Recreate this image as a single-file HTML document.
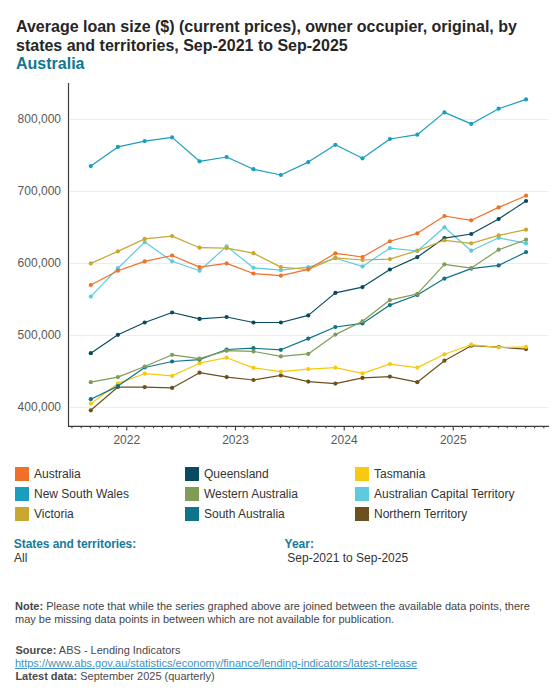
<!DOCTYPE html><html><head><meta charset="utf-8"><style>html,body{margin:0;padding:0;background:#fff;width:560px;height:700px;overflow:hidden}svg{display:block}text{font-family:"Liberation Sans",sans-serif}</style></head><body>
<svg width="560" height="700" viewBox="0 0 560 700">
<text x="16" y="32.3" font-size="16" font-weight="bold" fill="#262626">Average loan size ($) (current prices), owner occupier, original, by</text>
<text x="16" y="51" font-size="16" font-weight="bold" fill="#262626">states and territories, Sep-2021 to Sep-2025</text>
<text x="16" y="68.7" font-size="16" font-weight="bold" fill="#0F7892">Australia</text>
<line x1="70" x2="548" y1="119.5" y2="119.5" stroke="#ECECEC" stroke-width="1"/>
<text x="61" y="123.3" font-size="12" fill="#595959" text-anchor="end">800,000</text>
<line x1="70" x2="548" y1="191.5" y2="191.5" stroke="#ECECEC" stroke-width="1"/>
<text x="61" y="195.3" font-size="12" fill="#595959" text-anchor="end">700,000</text>
<line x1="70" x2="548" y1="263.5" y2="263.5" stroke="#ECECEC" stroke-width="1"/>
<text x="61" y="267.3" font-size="12" fill="#595959" text-anchor="end">600,000</text>
<line x1="70" x2="548" y1="335.5" y2="335.5" stroke="#ECECEC" stroke-width="1"/>
<text x="61" y="339.3" font-size="12" fill="#595959" text-anchor="end">500,000</text>
<line x1="70" x2="548" y1="407.5" y2="407.5" stroke="#ECECEC" stroke-width="1"/>
<text x="61" y="411.3" font-size="12" fill="#595959" text-anchor="end">400,000</text>
<line x1="68.5" x2="68.5" y1="83" y2="427" stroke="#3c3c3c" stroke-width="1.2"/>
<line x1="68" x2="549" y1="426.4" y2="426.4" stroke="#3c3c3c" stroke-width="1.2"/>
<line x1="71.93" x2="71.93" y1="426.5" y2="428.2" stroke="#3c3c3c" stroke-width="1.1"/>
<line x1="81.16" x2="81.16" y1="426.5" y2="428.2" stroke="#3c3c3c" stroke-width="1.1"/>
<line x1="90.40" x2="90.40" y1="426.5" y2="428.2" stroke="#3c3c3c" stroke-width="1.1"/>
<line x1="99.34" x2="99.34" y1="426.5" y2="428.2" stroke="#3c3c3c" stroke-width="1.1"/>
<line x1="108.57" x2="108.57" y1="426.5" y2="428.2" stroke="#3c3c3c" stroke-width="1.1"/>
<line x1="117.51" x2="117.51" y1="426.5" y2="428.2" stroke="#3c3c3c" stroke-width="1.1"/>
<line x1="126.75" x2="126.75" y1="426.5" y2="430.5" stroke="#3c3c3c" stroke-width="1.1"/>
<text x="126.75" y="443.8" font-size="12" fill="#595959" text-anchor="middle">2022</text>
<line x1="135.98" x2="135.98" y1="426.5" y2="428.2" stroke="#3c3c3c" stroke-width="1.1"/>
<line x1="144.32" x2="144.32" y1="426.5" y2="428.2" stroke="#3c3c3c" stroke-width="1.1"/>
<line x1="153.56" x2="153.56" y1="426.5" y2="428.2" stroke="#3c3c3c" stroke-width="1.1"/>
<line x1="162.49" x2="162.49" y1="426.5" y2="428.2" stroke="#3c3c3c" stroke-width="1.1"/>
<line x1="171.73" x2="171.73" y1="426.5" y2="428.2" stroke="#3c3c3c" stroke-width="1.1"/>
<line x1="180.67" x2="180.67" y1="426.5" y2="428.2" stroke="#3c3c3c" stroke-width="1.1"/>
<line x1="189.90" x2="189.90" y1="426.5" y2="428.2" stroke="#3c3c3c" stroke-width="1.1"/>
<line x1="199.14" x2="199.14" y1="426.5" y2="428.2" stroke="#3c3c3c" stroke-width="1.1"/>
<line x1="208.07" x2="208.07" y1="426.5" y2="428.2" stroke="#3c3c3c" stroke-width="1.1"/>
<line x1="217.31" x2="217.31" y1="426.5" y2="428.2" stroke="#3c3c3c" stroke-width="1.1"/>
<line x1="226.25" x2="226.25" y1="426.5" y2="428.2" stroke="#3c3c3c" stroke-width="1.1"/>
<line x1="235.48" x2="235.48" y1="426.5" y2="430.5" stroke="#3c3c3c" stroke-width="1.1"/>
<text x="235.48" y="443.8" font-size="12" fill="#595959" text-anchor="middle">2023</text>
<line x1="244.72" x2="244.72" y1="426.5" y2="428.2" stroke="#3c3c3c" stroke-width="1.1"/>
<line x1="253.06" x2="253.06" y1="426.5" y2="428.2" stroke="#3c3c3c" stroke-width="1.1"/>
<line x1="262.29" x2="262.29" y1="426.5" y2="428.2" stroke="#3c3c3c" stroke-width="1.1"/>
<line x1="271.23" x2="271.23" y1="426.5" y2="428.2" stroke="#3c3c3c" stroke-width="1.1"/>
<line x1="280.47" x2="280.47" y1="426.5" y2="428.2" stroke="#3c3c3c" stroke-width="1.1"/>
<line x1="289.40" x2="289.40" y1="426.5" y2="428.2" stroke="#3c3c3c" stroke-width="1.1"/>
<line x1="298.64" x2="298.64" y1="426.5" y2="428.2" stroke="#3c3c3c" stroke-width="1.1"/>
<line x1="307.87" x2="307.87" y1="426.5" y2="428.2" stroke="#3c3c3c" stroke-width="1.1"/>
<line x1="316.81" x2="316.81" y1="426.5" y2="428.2" stroke="#3c3c3c" stroke-width="1.1"/>
<line x1="326.05" x2="326.05" y1="426.5" y2="428.2" stroke="#3c3c3c" stroke-width="1.1"/>
<line x1="334.98" x2="334.98" y1="426.5" y2="428.2" stroke="#3c3c3c" stroke-width="1.1"/>
<line x1="344.22" x2="344.22" y1="426.5" y2="430.5" stroke="#3c3c3c" stroke-width="1.1"/>
<text x="344.22" y="443.8" font-size="12" fill="#595959" text-anchor="middle">2024</text>
<line x1="353.45" x2="353.45" y1="426.5" y2="428.2" stroke="#3c3c3c" stroke-width="1.1"/>
<line x1="362.09" x2="362.09" y1="426.5" y2="428.2" stroke="#3c3c3c" stroke-width="1.1"/>
<line x1="371.33" x2="371.33" y1="426.5" y2="428.2" stroke="#3c3c3c" stroke-width="1.1"/>
<line x1="380.27" x2="380.27" y1="426.5" y2="428.2" stroke="#3c3c3c" stroke-width="1.1"/>
<line x1="389.50" x2="389.50" y1="426.5" y2="428.2" stroke="#3c3c3c" stroke-width="1.1"/>
<line x1="398.44" x2="398.44" y1="426.5" y2="428.2" stroke="#3c3c3c" stroke-width="1.1"/>
<line x1="407.67" x2="407.67" y1="426.5" y2="428.2" stroke="#3c3c3c" stroke-width="1.1"/>
<line x1="416.91" x2="416.91" y1="426.5" y2="428.2" stroke="#3c3c3c" stroke-width="1.1"/>
<line x1="425.85" x2="425.85" y1="426.5" y2="428.2" stroke="#3c3c3c" stroke-width="1.1"/>
<line x1="435.08" x2="435.08" y1="426.5" y2="428.2" stroke="#3c3c3c" stroke-width="1.1"/>
<line x1="444.02" x2="444.02" y1="426.5" y2="428.2" stroke="#3c3c3c" stroke-width="1.1"/>
<line x1="453.25" x2="453.25" y1="426.5" y2="430.5" stroke="#3c3c3c" stroke-width="1.1"/>
<text x="453.25" y="443.8" font-size="12" fill="#595959" text-anchor="middle">2025</text>
<line x1="462.49" x2="462.49" y1="426.5" y2="428.2" stroke="#3c3c3c" stroke-width="1.1"/>
<line x1="470.83" x2="470.83" y1="426.5" y2="428.2" stroke="#3c3c3c" stroke-width="1.1"/>
<line x1="480.07" x2="480.07" y1="426.5" y2="428.2" stroke="#3c3c3c" stroke-width="1.1"/>
<line x1="489.00" x2="489.00" y1="426.5" y2="428.2" stroke="#3c3c3c" stroke-width="1.1"/>
<line x1="498.24" x2="498.24" y1="426.5" y2="428.2" stroke="#3c3c3c" stroke-width="1.1"/>
<line x1="507.18" x2="507.18" y1="426.5" y2="428.2" stroke="#3c3c3c" stroke-width="1.1"/>
<line x1="516.41" x2="516.41" y1="426.5" y2="428.2" stroke="#3c3c3c" stroke-width="1.1"/>
<line x1="525.65" x2="525.65" y1="426.5" y2="428.2" stroke="#3c3c3c" stroke-width="1.1"/>
<line x1="534.58" x2="534.58" y1="426.5" y2="428.2" stroke="#3c3c3c" stroke-width="1.1"/>
<line x1="543.82" x2="543.82" y1="426.5" y2="428.2" stroke="#3c3c3c" stroke-width="1.1"/>
<polyline points="90.80,410.30 117.91,387.00 144.72,387.10 172.13,387.90 199.54,372.70 226.65,377.10 253.46,380.00 280.87,375.40 308.27,381.60 335.38,383.60 362.49,377.90 389.90,376.60 417.31,382.20 444.42,360.70 471.23,345.70 498.64,347.10 526.05,349.10" fill="none" stroke="#6B5020" stroke-width="1.2" stroke-linejoin="round"/>
<circle cx="90.80" cy="410.30" r="2.1" fill="#6B5020"/>
<circle cx="117.91" cy="387.00" r="2.1" fill="#6B5020"/>
<circle cx="144.72" cy="387.10" r="2.1" fill="#6B5020"/>
<circle cx="172.13" cy="387.90" r="2.1" fill="#6B5020"/>
<circle cx="199.54" cy="372.70" r="2.1" fill="#6B5020"/>
<circle cx="226.65" cy="377.10" r="2.1" fill="#6B5020"/>
<circle cx="253.46" cy="380.00" r="2.1" fill="#6B5020"/>
<circle cx="280.87" cy="375.40" r="2.1" fill="#6B5020"/>
<circle cx="308.27" cy="381.60" r="2.1" fill="#6B5020"/>
<circle cx="335.38" cy="383.60" r="2.1" fill="#6B5020"/>
<circle cx="362.49" cy="377.90" r="2.1" fill="#6B5020"/>
<circle cx="389.90" cy="376.60" r="2.1" fill="#6B5020"/>
<circle cx="417.31" cy="382.20" r="2.1" fill="#6B5020"/>
<circle cx="444.42" cy="360.70" r="2.1" fill="#6B5020"/>
<circle cx="471.23" cy="345.70" r="2.1" fill="#6B5020"/>
<circle cx="498.64" cy="347.10" r="2.1" fill="#6B5020"/>
<circle cx="526.05" cy="349.10" r="2.1" fill="#6B5020"/>
<polyline points="90.80,296.60 117.91,268.20 144.72,242.10 172.13,261.30 199.54,270.70 226.65,246.40 253.46,267.80 280.87,270.20 308.27,267.20 335.38,258.20 362.49,266.40 389.90,248.20 417.31,251.00 444.42,227.30 471.23,250.70 498.64,237.80 526.05,243.40" fill="none" stroke="#5CCBDF" stroke-width="1.2" stroke-linejoin="round"/>
<circle cx="90.80" cy="296.60" r="2.1" fill="#5CCBDF"/>
<circle cx="117.91" cy="268.20" r="2.1" fill="#5CCBDF"/>
<circle cx="144.72" cy="242.10" r="2.1" fill="#5CCBDF"/>
<circle cx="172.13" cy="261.30" r="2.1" fill="#5CCBDF"/>
<circle cx="199.54" cy="270.70" r="2.1" fill="#5CCBDF"/>
<circle cx="226.65" cy="246.40" r="2.1" fill="#5CCBDF"/>
<circle cx="253.46" cy="267.80" r="2.1" fill="#5CCBDF"/>
<circle cx="280.87" cy="270.20" r="2.1" fill="#5CCBDF"/>
<circle cx="308.27" cy="267.20" r="2.1" fill="#5CCBDF"/>
<circle cx="335.38" cy="258.20" r="2.1" fill="#5CCBDF"/>
<circle cx="362.49" cy="266.40" r="2.1" fill="#5CCBDF"/>
<circle cx="389.90" cy="248.20" r="2.1" fill="#5CCBDF"/>
<circle cx="417.31" cy="251.00" r="2.1" fill="#5CCBDF"/>
<circle cx="444.42" cy="227.30" r="2.1" fill="#5CCBDF"/>
<circle cx="471.23" cy="250.70" r="2.1" fill="#5CCBDF"/>
<circle cx="498.64" cy="237.80" r="2.1" fill="#5CCBDF"/>
<circle cx="526.05" cy="243.40" r="2.1" fill="#5CCBDF"/>
<polyline points="90.80,403.70 117.91,383.40 144.72,373.70 172.13,375.90 199.54,363.20 226.65,357.70 253.46,367.90 280.87,371.60 308.27,369.10 335.38,367.70 362.49,373.40 389.90,364.10 417.31,367.60 444.42,354.30 471.23,344.70 498.64,347.50 526.05,346.90" fill="none" stroke="#F6CA10" stroke-width="1.2" stroke-linejoin="round"/>
<circle cx="90.80" cy="403.70" r="2.1" fill="#F6CA10"/>
<circle cx="117.91" cy="383.40" r="2.1" fill="#F6CA10"/>
<circle cx="144.72" cy="373.70" r="2.1" fill="#F6CA10"/>
<circle cx="172.13" cy="375.90" r="2.1" fill="#F6CA10"/>
<circle cx="199.54" cy="363.20" r="2.1" fill="#F6CA10"/>
<circle cx="226.65" cy="357.70" r="2.1" fill="#F6CA10"/>
<circle cx="253.46" cy="367.90" r="2.1" fill="#F6CA10"/>
<circle cx="280.87" cy="371.60" r="2.1" fill="#F6CA10"/>
<circle cx="308.27" cy="369.10" r="2.1" fill="#F6CA10"/>
<circle cx="335.38" cy="367.70" r="2.1" fill="#F6CA10"/>
<circle cx="362.49" cy="373.40" r="2.1" fill="#F6CA10"/>
<circle cx="389.90" cy="364.10" r="2.1" fill="#F6CA10"/>
<circle cx="417.31" cy="367.60" r="2.1" fill="#F6CA10"/>
<circle cx="444.42" cy="354.30" r="2.1" fill="#F6CA10"/>
<circle cx="471.23" cy="344.70" r="2.1" fill="#F6CA10"/>
<circle cx="498.64" cy="347.50" r="2.1" fill="#F6CA10"/>
<circle cx="526.05" cy="346.90" r="2.1" fill="#F6CA10"/>
<polyline points="90.80,399.20 117.91,386.10 144.72,367.50 172.13,361.50 199.54,359.60 226.65,349.50 253.46,348.20 280.87,349.80 308.27,338.60 335.38,327.00 362.49,323.40 389.90,305.10 417.31,295.00 444.42,278.60 471.23,268.60 498.64,265.40 526.05,252.10" fill="none" stroke="#0E7489" stroke-width="1.2" stroke-linejoin="round"/>
<circle cx="90.80" cy="399.20" r="2.1" fill="#0E7489"/>
<circle cx="117.91" cy="386.10" r="2.1" fill="#0E7489"/>
<circle cx="144.72" cy="367.50" r="2.1" fill="#0E7489"/>
<circle cx="172.13" cy="361.50" r="2.1" fill="#0E7489"/>
<circle cx="199.54" cy="359.60" r="2.1" fill="#0E7489"/>
<circle cx="226.65" cy="349.50" r="2.1" fill="#0E7489"/>
<circle cx="253.46" cy="348.20" r="2.1" fill="#0E7489"/>
<circle cx="280.87" cy="349.80" r="2.1" fill="#0E7489"/>
<circle cx="308.27" cy="338.60" r="2.1" fill="#0E7489"/>
<circle cx="335.38" cy="327.00" r="2.1" fill="#0E7489"/>
<circle cx="362.49" cy="323.40" r="2.1" fill="#0E7489"/>
<circle cx="389.90" cy="305.10" r="2.1" fill="#0E7489"/>
<circle cx="417.31" cy="295.00" r="2.1" fill="#0E7489"/>
<circle cx="444.42" cy="278.60" r="2.1" fill="#0E7489"/>
<circle cx="471.23" cy="268.60" r="2.1" fill="#0E7489"/>
<circle cx="498.64" cy="265.40" r="2.1" fill="#0E7489"/>
<circle cx="526.05" cy="252.10" r="2.1" fill="#0E7489"/>
<polyline points="90.80,382.20 117.91,377.10 144.72,366.50 172.13,354.80 199.54,358.70 226.65,350.70 253.46,351.40 280.87,356.40 308.27,353.90 335.38,334.60 362.49,321.25 389.90,300.10 417.31,293.80 444.42,264.30 471.23,268.10 498.64,249.70 526.05,239.70" fill="none" stroke="#809C56" stroke-width="1.2" stroke-linejoin="round"/>
<circle cx="90.80" cy="382.20" r="2.1" fill="#809C56"/>
<circle cx="117.91" cy="377.10" r="2.1" fill="#809C56"/>
<circle cx="144.72" cy="366.50" r="2.1" fill="#809C56"/>
<circle cx="172.13" cy="354.80" r="2.1" fill="#809C56"/>
<circle cx="199.54" cy="358.70" r="2.1" fill="#809C56"/>
<circle cx="226.65" cy="350.70" r="2.1" fill="#809C56"/>
<circle cx="253.46" cy="351.40" r="2.1" fill="#809C56"/>
<circle cx="280.87" cy="356.40" r="2.1" fill="#809C56"/>
<circle cx="308.27" cy="353.90" r="2.1" fill="#809C56"/>
<circle cx="335.38" cy="334.60" r="2.1" fill="#809C56"/>
<circle cx="362.49" cy="321.25" r="2.1" fill="#809C56"/>
<circle cx="389.90" cy="300.10" r="2.1" fill="#809C56"/>
<circle cx="417.31" cy="293.80" r="2.1" fill="#809C56"/>
<circle cx="444.42" cy="264.30" r="2.1" fill="#809C56"/>
<circle cx="471.23" cy="268.10" r="2.1" fill="#809C56"/>
<circle cx="498.64" cy="249.70" r="2.1" fill="#809C56"/>
<circle cx="526.05" cy="239.70" r="2.1" fill="#809C56"/>
<polyline points="90.80,353.20 117.91,334.80 144.72,322.50 172.13,312.50 199.54,318.90 226.65,317.00 253.46,322.50 280.87,322.50 308.27,315.40 335.38,292.90 362.49,287.10 389.90,269.50 417.31,257.10 444.42,238.10 471.23,234.00 498.64,219.00 526.05,201.00" fill="none" stroke="#084B60" stroke-width="1.2" stroke-linejoin="round"/>
<circle cx="90.80" cy="353.20" r="2.1" fill="#084B60"/>
<circle cx="117.91" cy="334.80" r="2.1" fill="#084B60"/>
<circle cx="144.72" cy="322.50" r="2.1" fill="#084B60"/>
<circle cx="172.13" cy="312.50" r="2.1" fill="#084B60"/>
<circle cx="199.54" cy="318.90" r="2.1" fill="#084B60"/>
<circle cx="226.65" cy="317.00" r="2.1" fill="#084B60"/>
<circle cx="253.46" cy="322.50" r="2.1" fill="#084B60"/>
<circle cx="280.87" cy="322.50" r="2.1" fill="#084B60"/>
<circle cx="308.27" cy="315.40" r="2.1" fill="#084B60"/>
<circle cx="335.38" cy="292.90" r="2.1" fill="#084B60"/>
<circle cx="362.49" cy="287.10" r="2.1" fill="#084B60"/>
<circle cx="389.90" cy="269.50" r="2.1" fill="#084B60"/>
<circle cx="417.31" cy="257.10" r="2.1" fill="#084B60"/>
<circle cx="444.42" cy="238.10" r="2.1" fill="#084B60"/>
<circle cx="471.23" cy="234.00" r="2.1" fill="#084B60"/>
<circle cx="498.64" cy="219.00" r="2.1" fill="#084B60"/>
<circle cx="526.05" cy="201.00" r="2.1" fill="#084B60"/>
<polyline points="90.80,263.40 117.91,251.40 144.72,238.90 172.13,236.10 199.54,247.70 226.65,248.20 253.46,253.20 280.87,267.10 308.27,269.50 335.38,257.90 362.49,260.00 389.90,259.10 417.31,250.60 444.42,240.30 471.23,243.30 498.64,235.40 526.05,229.70" fill="none" stroke="#C8A830" stroke-width="1.2" stroke-linejoin="round"/>
<circle cx="90.80" cy="263.40" r="2.1" fill="#C8A830"/>
<circle cx="117.91" cy="251.40" r="2.1" fill="#C8A830"/>
<circle cx="144.72" cy="238.90" r="2.1" fill="#C8A830"/>
<circle cx="172.13" cy="236.10" r="2.1" fill="#C8A830"/>
<circle cx="199.54" cy="247.70" r="2.1" fill="#C8A830"/>
<circle cx="226.65" cy="248.20" r="2.1" fill="#C8A830"/>
<circle cx="253.46" cy="253.20" r="2.1" fill="#C8A830"/>
<circle cx="280.87" cy="267.10" r="2.1" fill="#C8A830"/>
<circle cx="308.27" cy="269.50" r="2.1" fill="#C8A830"/>
<circle cx="335.38" cy="257.90" r="2.1" fill="#C8A830"/>
<circle cx="362.49" cy="260.00" r="2.1" fill="#C8A830"/>
<circle cx="389.90" cy="259.10" r="2.1" fill="#C8A830"/>
<circle cx="417.31" cy="250.60" r="2.1" fill="#C8A830"/>
<circle cx="444.42" cy="240.30" r="2.1" fill="#C8A830"/>
<circle cx="471.23" cy="243.30" r="2.1" fill="#C8A830"/>
<circle cx="498.64" cy="235.40" r="2.1" fill="#C8A830"/>
<circle cx="526.05" cy="229.70" r="2.1" fill="#C8A830"/>
<polyline points="90.80,166.10 117.91,146.90 144.72,141.10 172.13,137.40 199.54,161.30 226.65,157.00 253.46,169.20 280.87,175.00 308.27,162.10 335.38,144.80 362.49,158.30 389.90,139.00 417.31,134.70 444.42,112.40 471.23,123.90 498.64,108.70 526.05,99.40" fill="none" stroke="#1A9EBD" stroke-width="1.2" stroke-linejoin="round"/>
<circle cx="90.80" cy="166.10" r="2.1" fill="#1A9EBD"/>
<circle cx="117.91" cy="146.90" r="2.1" fill="#1A9EBD"/>
<circle cx="144.72" cy="141.10" r="2.1" fill="#1A9EBD"/>
<circle cx="172.13" cy="137.40" r="2.1" fill="#1A9EBD"/>
<circle cx="199.54" cy="161.30" r="2.1" fill="#1A9EBD"/>
<circle cx="226.65" cy="157.00" r="2.1" fill="#1A9EBD"/>
<circle cx="253.46" cy="169.20" r="2.1" fill="#1A9EBD"/>
<circle cx="280.87" cy="175.00" r="2.1" fill="#1A9EBD"/>
<circle cx="308.27" cy="162.10" r="2.1" fill="#1A9EBD"/>
<circle cx="335.38" cy="144.80" r="2.1" fill="#1A9EBD"/>
<circle cx="362.49" cy="158.30" r="2.1" fill="#1A9EBD"/>
<circle cx="389.90" cy="139.00" r="2.1" fill="#1A9EBD"/>
<circle cx="417.31" cy="134.70" r="2.1" fill="#1A9EBD"/>
<circle cx="444.42" cy="112.40" r="2.1" fill="#1A9EBD"/>
<circle cx="471.23" cy="123.90" r="2.1" fill="#1A9EBD"/>
<circle cx="498.64" cy="108.70" r="2.1" fill="#1A9EBD"/>
<circle cx="526.05" cy="99.40" r="2.1" fill="#1A9EBD"/>
<polyline points="90.80,285.00 117.91,270.70 144.72,261.40 172.13,255.50 199.54,267.10 226.65,263.40 253.46,273.50 280.87,275.70 308.27,269.30 335.38,253.30 362.49,257.00 389.90,241.25 417.31,233.30 444.42,216.00 471.23,220.30 498.64,207.40 526.05,195.70" fill="none" stroke="#F0702A" stroke-width="1.2" stroke-linejoin="round"/>
<circle cx="90.80" cy="285.00" r="2.1" fill="#F0702A"/>
<circle cx="117.91" cy="270.70" r="2.1" fill="#F0702A"/>
<circle cx="144.72" cy="261.40" r="2.1" fill="#F0702A"/>
<circle cx="172.13" cy="255.50" r="2.1" fill="#F0702A"/>
<circle cx="199.54" cy="267.10" r="2.1" fill="#F0702A"/>
<circle cx="226.65" cy="263.40" r="2.1" fill="#F0702A"/>
<circle cx="253.46" cy="273.50" r="2.1" fill="#F0702A"/>
<circle cx="280.87" cy="275.70" r="2.1" fill="#F0702A"/>
<circle cx="308.27" cy="269.30" r="2.1" fill="#F0702A"/>
<circle cx="335.38" cy="253.30" r="2.1" fill="#F0702A"/>
<circle cx="362.49" cy="257.00" r="2.1" fill="#F0702A"/>
<circle cx="389.90" cy="241.25" r="2.1" fill="#F0702A"/>
<circle cx="417.31" cy="233.30" r="2.1" fill="#F0702A"/>
<circle cx="444.42" cy="216.00" r="2.1" fill="#F0702A"/>
<circle cx="471.23" cy="220.30" r="2.1" fill="#F0702A"/>
<circle cx="498.64" cy="207.40" r="2.1" fill="#F0702A"/>
<circle cx="526.05" cy="195.70" r="2.1" fill="#F0702A"/>
<rect x="15" y="467" width="14" height="14" fill="#F0702A"/>
<text x="34" y="478.3" font-size="12" fill="#333">Australia</text>
<rect x="15" y="487" width="14" height="14" fill="#1A9EBD"/>
<text x="34" y="498.3" font-size="12" fill="#333">New South Wales</text>
<rect x="15" y="507" width="14" height="14" fill="#C8A830"/>
<text x="34" y="518.3" font-size="12" fill="#333">Victoria</text>
<rect x="185" y="467" width="14" height="14" fill="#084B60"/>
<text x="204" y="478.3" font-size="12" fill="#333">Queensland</text>
<rect x="185" y="487" width="14" height="14" fill="#809C56"/>
<text x="204" y="498.3" font-size="12" fill="#333">Western Australia</text>
<rect x="185" y="507" width="14" height="14" fill="#0E7489"/>
<text x="204" y="518.3" font-size="12" fill="#333">South Australia</text>
<rect x="355" y="467" width="14" height="14" fill="#F6CA10"/>
<text x="374" y="478.3" font-size="12" fill="#333">Tasmania</text>
<rect x="355" y="487" width="14" height="14" fill="#5CCBDF"/>
<text x="374" y="498.3" font-size="12" fill="#333">Australian Capital Territory</text>
<rect x="355" y="507" width="14" height="14" fill="#6B5020"/>
<text x="374" y="518.3" font-size="12" fill="#333">Northern Territory</text>
<text x="13.8" y="547.7" font-size="12" font-weight="bold" fill="#177B9B" textLength="122.4" lengthAdjust="spacing">States and territories:</text>
<text x="14" y="561.7" font-size="12" fill="#333">All</text>
<text x="284.6" y="547.7" font-size="12" font-weight="bold" fill="#177B9B">Year:</text>
<text x="284" y="561.7" font-size="12" fill="#333" xml:space="preserve"> Sep-2021 to Sep-2025</text>
<text x="15" y="609.6" font-size="11" fill="#444"><tspan font-weight="bold">Note:</tspan> Please note that while the series graphed above are joined between the available data points, there</text>
<text x="15" y="623" font-size="11" fill="#444">may be missing data points in between which are not available for publication.</text>
<text x="15.4" y="654.3" font-size="11" fill="#4a4a4a"><tspan font-weight="bold">Source:</tspan> ABS - Lending Indicators</text>
<text x="15" y="666.9" font-size="11" fill="#4193BA" text-decoration="underline" style="text-decoration-skip-ink:none">https://www.abs.gov.au/statistics/economy/finance/lending-indicators/latest-release</text>
<text x="15.4" y="679.5" font-size="11" fill="#4a4a4a"><tspan font-weight="bold">Latest data:</tspan> September 2025 (quarterly)</text>
</svg></body></html>
